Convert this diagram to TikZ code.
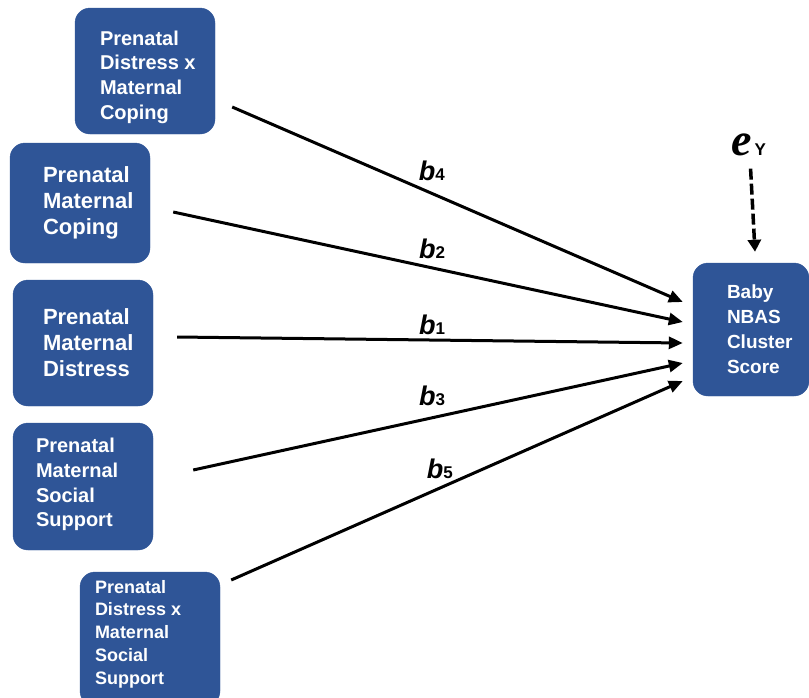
\documentclass[tikz,border=0pt]{standalone}
\usepackage{fontspec}
\setmainfont{Liberation Sans}
\newfontfamily\errfont{Liberation Serif}
\usetikzlibrary{arrows.meta}
\definecolor{boxblue}{HTML}{2F5597}

\tikzset{
  varbox/.style={draw=boxblue, fill=boxblue, rounded corners=15pt, minimum width=140pt, inner sep=0pt},
  boxtxt/.style={anchor=west, text=white, align=left, inner sep=0pt},
  patharrow/.style={line width=3pt, -{Triangle[length=14pt,width=12pt]}},
  coef/.style={font=\bfseries\itshape\fontsize{27}{27}\selectfont, inner sep=0pt},
}

\begin{document}
\begin{tikzpicture}[x=1pt,y=-1pt]
        \useasboundingbox (0,0) rectangle (809,697);

        % Predictor boxes
        \node (dxc) [varbox, minimum height=126pt, label={[boxtxt, xshift=25pt, yshift=-6pt, font=\bfseries\fontsize{20}{24.7}\selectfont]west:Prenatal\\Distress x\\Maternal\\Coping}] at (145,71) {};
        \node (cope) [varbox, minimum height=120pt, label={[boxtxt, xshift=33pt, font=\bfseries\fontsize{22}{26}\selectfont]west:Prenatal\\Maternal\\Coping}] at (80,203) {};
        \node (dist) [varbox, minimum height=126pt, label={[boxtxt, xshift=30pt, font=\bfseries\fontsize{22}{26}\selectfont]west:Prenatal\\Maternal\\Distress}] at (83,343) {};
        \node (supp) [varbox, minimum height=127pt, label={[boxtxt, xshift=23pt, yshift=2pt, font=\bfseries\fontsize{20}{24.7}\selectfont]west:Prenatal\\Maternal\\Social\\Support}] at (83,486.5) {};
        \node (dxs) [varbox, minimum height=134pt, label={[boxtxt, xshift=15pt, yshift=5pt, font=\bfseries\fontsize{18}{22.8}\selectfont]west:Prenatal\\Distress x\\Maternal\\Social\\Support}] at (150,639) {};

        % Outcome box
        \node (nbas) [varbox, minimum width=116pt, minimum height=133pt, label={[boxtxt, xshift=34pt, font=\bfseries\fontsize{19}{25}\selectfont]west:Baby\\NBAS\\Cluster\\Score}] at (751,329.5) {};

        % Error term
        \node (err) [anchor=base west, inner sep=0pt] at (731,155) {{\errfont\bfseries\itshape\fontsize{46}{46}\selectfont e}\hspace{3pt}{\bfseries\fontsize{17}{17}\selectfont Y}};
        \draw [line width=3.5pt, dash pattern=on 11pt off 4pt, -{Triangle[length=12pt,width=13pt]}] ([xshift=2pt,yshift=-13pt]err.south) -- ([xshift=4pt,yshift=11pt]nbas.north);

        % Paths
        \draw [patharrow] ([xshift=17pt,yshift=-36pt]dxc.east) -- node[coef, pos=0.443, above=11pt] {b\textup{\fontsize{17}{17}\selectfont 4}} ([xshift=-10pt,yshift=27.5pt]nbas.west);
        \draw [patharrow] ([xshift=23pt,yshift=-9pt]cope.east) -- node[coef, pos=0.508, above=8pt] {b\textup{\fontsize{17}{17}\selectfont 2}} ([xshift=-10pt,yshift=7.5pt]nbas.west);
        \draw [patharrow] ([xshift=24pt,yshift=6pt]dist.east) -- node[coef, pos=0.504, above=4pt] {b\textup{\fontsize{17}{17}\selectfont 1}} ([xshift=-10pt,yshift=-13.5pt]nbas.west);
        \draw [patharrow] ([xshift=40pt,yshift=16.5pt]supp.east) -- node[coef, pos=0.488, above=11pt] {b\textup{\fontsize{17}{17}\selectfont 3}} ([xshift=-10pt,yshift=-33.5pt]nbas.west);
        \draw [patharrow] ([xshift=11pt,yshift=59pt]dxs.east) -- node[coef, pos=0.462, above=8pt] {b\textup{\fontsize{17}{17}\selectfont 5}} ([xshift=-10pt,yshift=-51.5pt]nbas.west);

\end{tikzpicture}
\end{document}
